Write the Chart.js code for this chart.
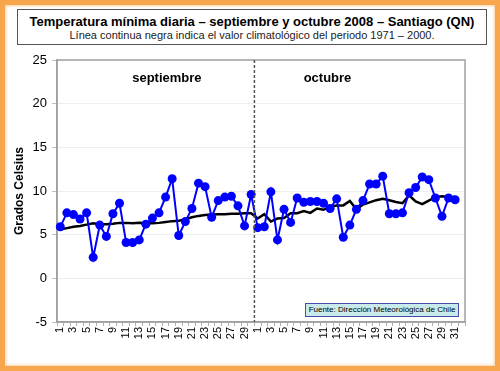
<!DOCTYPE html>
<html>
<head>
<meta charset="utf-8">
<script src="https://cdn.jsdelivr.net/npm/chart.js@4"></script>
<style>
html,body{margin:0;padding:0;}
body{width:500px;height:371px;overflow:hidden;background:#fff;font-family:"Liberation Sans",Arial,sans-serif;}
#frame{position:absolute;left:0;top:0;width:500px;height:371px;box-sizing:border-box;border:5px solid #f8a64e;box-shadow:inset 0 0 3px 1px #fcd3a0;}
#titleBox{position:absolute;left:17px;top:9px;width:470px;height:36px;box-sizing:border-box;border:1px solid #555;background:#fff;text-align:center;}
#title{font-weight:bold;font-size:13px;line-height:15px;margin-top:4px;color:#000;white-space:nowrap;}
#subtitle{font-size:11px;line-height:13px;color:#222;white-space:nowrap;}
#source{position:absolute;left:305px;top:303px;width:154px;height:14px;box-sizing:border-box;border:1px solid #4a4aa8;background:#c8eaea;font-size:8px;line-height:12px;text-align:center;color:#000;}
canvas{position:absolute;left:0;top:0;}
</style>
</head>
<body>
<canvas id="chart" width="500" height="371"></canvas>
<div id="frame"></div>
<div id="titleBox">
<div id="title">Temperatura mínima diaria – septiembre y octubre 2008 – Santiago (QN)</div>
<div id="subtitle">Línea continua negra indica el valor climatológico del periodo 1971 – 2000.</div>
</div>
<div id="source">Fuente: Dirección Meteorológica de Chile</div>
<script>

// days of september and october 2008, plus an empty slot at the end
const days = [
"1","2","3","4","5","6","7","8","9","10","11","12","13","14","15",
"16","17","18","19","20","21","22","23","24","25","26","27","28","29","30",
"1","2","3","4","5","6","7","8","9","10","11","12","13","14","15","16",
"17","18","19","20","21","22","23","24","25","26","27","28","29","30","31",
""
];

// minima diaria 2008 (blue)
const minTemp = [
5.9,7.5,7.3,6.8,7.5,2.4,6.1,4.8,7.4,8.6,4.1,4.1,4.4,6.2,6.9,
7.5,9.3,11.4,4.9,6.5,8.0,10.9,10.5,7.0,8.9,9.3,9.4,8.3,6.0,9.6,
5.8,5.9,9.9,4.4,7.9,6.4,9.2,8.7,8.8,8.8,8.6,8.0,9.1,4.7,6.1,7.9,
8.9,10.8,10.8,11.7,7.4,7.4,7.5,9.8,10.4,11.6,11.3,9.2,7.1,9.2,9.0,
null
];

// valor climatologico 1971-2000 (black)
const climTemp = [
5.6,5.75,5.9,6.0,6.15,6.3,6.2,6.2,6.25,6.35,6.35,6.3,6.35,6.3,6.3,
6.35,6.45,6.55,6.6,6.75,7.0,7.15,7.25,7.3,7.35,7.35,7.4,7.4,7.45,7.45,
6.85,7.35,6.5,6.85,6.9,7.45,7.45,7.7,7.5,8.0,7.85,8.2,8.35,8.35,8.85,7.9,
8.45,8.7,8.95,9.1,8.95,8.75,8.6,9.5,8.8,8.5,8.9,9.3,9.4,9.3,9.3,
null
];

const yTicks = [-5,0,5,10,15,20,25];

const monthLabels = ["septiembre","octubre"];

// dashed separator between months + month names
const monthPlugin = {
id:"months",
afterDatasetsDraw(chart){
const ctx = chart.ctx;
const x = chart.scales.x;
const y = chart.scales.y;
const sep = (x.getPixelForValue(29) + x.getPixelForValue(30)) / 2;
ctx.save();
ctx.strokeStyle = "#555";
ctx.lineWidth = 1.5;
ctx.setLineDash([3,2]);
ctx.beginPath();
ctx.moveTo(sep, y.top);
ctx.lineTo(sep, y.bottom);
ctx.stroke();
ctx.setLineDash([]);
ctx.fillStyle = "#000";
ctx.font = "bold 13px 'Liberation Sans', Arial, sans-serif";
ctx.textAlign = "center";
ctx.textBaseline = "middle";
ctx.fillText(monthLabels[0], x.getPixelForValue(16.2), y.getPixelForValue(22.9));
ctx.fillText(monthLabels[1], x.getPixelForValue(40.6), y.getPixelForValue(22.9));
ctx.restore();
}
};

// gray frame around the plot area
const framePlugin = {
id:"plotFrame",
beforeDatasetsDraw(chart){
const a = chart.chartArea;
const ctx = chart.ctx;
ctx.save();
ctx.strokeStyle = "#a0a0a0";
ctx.lineWidth = 1.5;
ctx.strokeRect(a.left, a.top, a.right - a.left, a.bottom - a.top);
ctx.restore();
}
};

Chart.defaults.font.family = "'Liberation Sans', Arial, sans-serif";
Chart.defaults.color = "#000";

new Chart(document.getElementById("chart"),{
type:"line",
data:{
labels:days,
datasets:[
{
label:"Clima",
data:climTemp,
borderColor:"#000",
borderWidth:2.5,
pointRadius:0,
tension:0,
order:2
},
{
label:"2008",
data:minTemp,
borderColor:"#0000ff",
backgroundColor:"#0000ff",
borderWidth:2,
pointRadius:4.5,
pointBackgroundColor:"#0000ff",
pointBorderWidth:0,
tension:0,
order:1
}
]
},
options:{
responsive:false,
animation:false,
layout:{padding:{left:8,top:60,right:35,bottom:9}},
plugins:{legend:{display:false},tooltip:{enabled:false}},
scales:{
x:{
offset:true,
grid:{display:true,drawOnChartArea:false,offset:true,tickLength:4,color:"#b0b0b0"},
border:{color:"#a0a0a0",width:1.5},
ticks:{
autoSkip:false,
minRotation:90,
maxRotation:90,
padding:1,
font:{size:11},
callback:function(v,i){ return (parseInt(days[i]) % 2 === 1) ? days[i] : ""; }
},
afterFit(scale){ scale.height = 40; }
},
y:{
min:-5,
max:25,
afterBuildTicks(scale){ scale.ticks = yTicks.map(v => ({value:v})); },
grid:{color:"#eeeeee",tickLength:5,tickColor:"#c0c0c0"},
border:{color:"#a0a0a0",width:1.5},
ticks:{padding:5,font:{size:13}},
title:{display:true,text:"Grados Celsius",font:{size:12,weight:"bold"},padding:{top:4,bottom:0}},
afterFit(scale){ scale.width = 49; }
}
}
},
plugins:[framePlugin,monthPlugin]
});

</script>
</body>
</html>
